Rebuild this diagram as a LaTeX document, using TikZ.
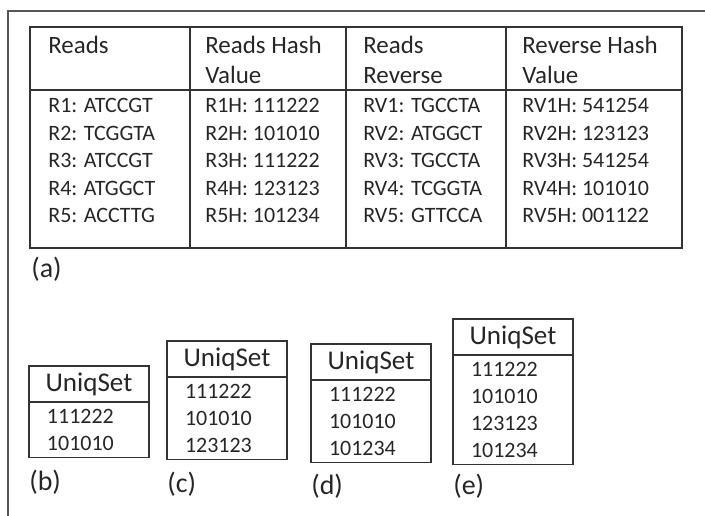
\documentclass[tikz,border=0pt]{standalone}
\usepackage{fontspec}
\setmainfont{Carlito}
\usetikzlibrary{positioning}
\definecolor{Ink}{HTML}{262626}
\definecolor{Rule}{HTML}{333333}
\definecolor{Frame}{HTML}{555555}

\begin{document}
\begin{tikzpicture}[
  x=0.02cm,y=-0.02cm,
  grid/.style={draw=Rule,line width=0.9pt},
  head/.style={anchor=north west,inner sep=0pt,align=left,text=Ink,font=\fontsize{14.2}{17.1}\selectfont},
  entry/.style={anchor=north west,inner sep=0pt,align=left,text=Ink,font=\fontsize{12.5}{15.65}\selectfont},
  settop/.style={draw=Rule,line width=0.9pt,outer sep=0pt,anchor=north west,minimum width=2.4cm,minimum height=0.72cm,inner sep=0pt,text=Ink,font=\fontsize{15.4}{18}\selectfont},
  setbody/.style={draw=Rule,line width=0.9pt,outer sep=0pt,text width=1.68cm,inner xsep=0.36cm,inner ysep=0.14cm,align=left,text=Ink,font=\fontsize{12.5}{15.4}\selectfont},
  tag/.style={inner sep=0pt,text=Ink,font=\fontsize{15.9}{19}\selectfont}
]
\useasboundingbox (0,0) rectangle (705,516);
\draw[draw=Frame,line width=1pt] (705,11) -- (8,11) -- (8,516);

% table (a)
\draw[grid] (30,27) rectangle (682,248);
\draw[grid] (30,90) -- (682,90);
\draw[grid] (190,27) -- (190,248);
\draw[grid] (346,27) -- (346,248);
\draw[grid] (506,27) -- (506,248);

\node[head] (hrd) at (48,36) {Reads};
\node[head] (hrh) at (205,36) {Reads Hash\\Value};
\node[head] (hrv) at (363,36) {Reads\\Reverse};
\node[head] (hrvh) at (522,36) {Reverse Hash\\Value};

\node[entry] (rd) at (48,98) {R1: ATCCGT\\R2: TCGGTA\\R3: ATCCGT\\R4: ATGGCT\\R5: ACCTTG};
\node[entry] (rh) at (205,98) {R1H: 111222\\R2H: 101010\\R3H: 111222\\R4H: 123123\\R5H: 101234};
\node[entry] (rv) at (363,98) {RV1: TGCCTA\\RV2: ATGGCT\\RV3: TGCCTA\\RV4: TCGGTA\\RV5: GTTCCA};
\node[entry] (rvh) at (522,98) {RV1H: 541254\\RV2H: 123123\\RV3H: 541254\\RV4H: 101010\\RV5H: 001122};

\node[tag,anchor=north west] (taga) at (31,257) {(a)};

% unique sets (b)--(e)
\node[settop] (setb) at (29,366) {UniqSet};
\node[setbody,below=0pt of setb] (valb) {111222\\101010};
\node[tag,below=0.25cm of valb.south west,anchor=north west] (tagb) {(b)};

\node[settop] (setc) at (167,341) {UniqSet};
\node[setbody,below=0pt of setc] (valc) {111222\\101010\\123123};
\node[tag,below=0.24cm of valc.south west,anchor=north west] (tagc) {(c)};

\node[settop] (setd) at (311,344) {UniqSet};
\node[setbody,below=0pt of setd] (vald) {111222\\101010\\101234};
\node[tag,below=0.22cm of vald.south west,anchor=north west] (tagd) {(d)};

\node[settop] (sete) at (453,319) {UniqSet};
\node[setbody,below=0pt of sete] (vale) {111222\\101010\\123123\\101234};
\node[tag,below=0.18cm of vale.south west,anchor=north west] (tage) {(e)};
\end{tikzpicture}
\end{document}
